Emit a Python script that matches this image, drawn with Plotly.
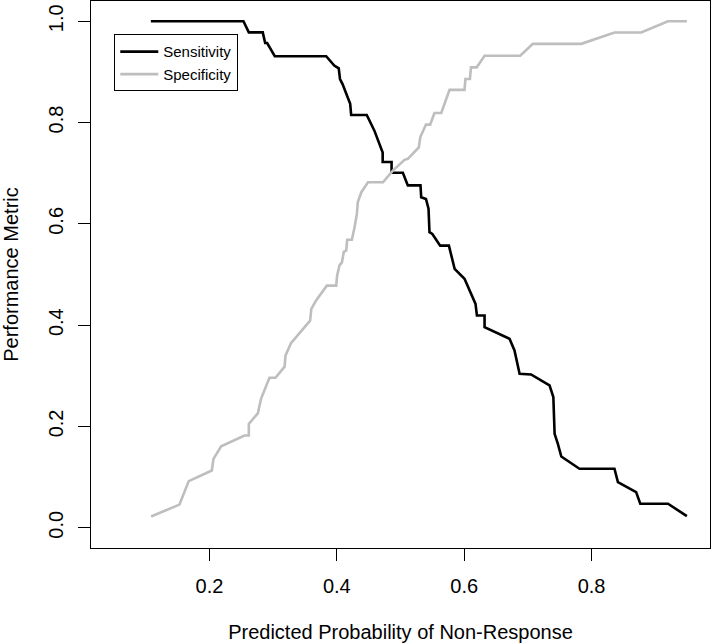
import plotly.graph_objects as go

# Sensitivity curve vertices (threshold -> value)
sens_x = [0.108, 0.2534, 0.2618, 0.2837, 0.2875, 0.2906, 0.3026, 0.3833, 0.396, 0.403,
          0.405, 0.409, 0.417, 0.421, 0.4225, 0.447, 0.459, 0.467, 0.472, 0.472,
          0.486, 0.486, 0.5037, 0.5115, 0.5314, 0.5325, 0.540, 0.544, 0.5455, 0.550,
          0.5623, 0.576, 0.5796, 0.585, 0.6005, 0.611, 0.6178, 0.620, 0.632, 0.632,
          0.6712, 0.679, 0.687, 0.705, 0.734, 0.740, 0.742, 0.747, 0.7525, 0.781,
          0.836, 0.8414, 0.870, 0.8765, 0.920, 0.9497]
sens_y = [1.0, 1.0, 0.978, 0.978, 0.957, 0.957, 0.931, 0.931, 0.9126, 0.907,
          0.886, 0.876, 0.850, 0.837, 0.815, 0.815, 0.784, 0.758, 0.741, 0.722,
          0.722, 0.701, 0.701, 0.676, 0.676, 0.6526, 0.649, 0.630, 0.5835, 0.580,
          0.557, 0.557, 0.5375, 0.511, 0.4915, 0.462, 0.442, 0.419, 0.419, 0.396,
          0.373, 0.350, 0.304, 0.3026, 0.281, 0.258, 0.1855, 0.166, 0.1407, 0.1165,
          0.1165, 0.090, 0.0703, 0.0474, 0.0474, 0.023]

# Specificity curve vertices
spec_x = [0.1084, 0.1529, 0.1675, 0.2037, 0.2063, 0.2184, 0.255, 0.2618, 0.2618, 0.276,
          0.281, 0.2864, 0.2942, 0.3037, 0.318, 0.3194, 0.328, 0.358, 0.36, 0.3675,
          0.3843, 0.399, 0.4005, 0.4042, 0.408, 0.411, 0.4147, 0.4163, 0.4236, 0.4278,
          0.4315, 0.433, 0.4385, 0.449, 0.4725, 0.488, 0.5063, 0.5115, 0.5288, 0.531,
          0.540, 0.5466, 0.5533, 0.564, 0.577, 0.6005, 0.602, 0.609, 0.6107, 0.6197,
          0.632, 0.688, 0.7078, 0.7838, 0.836, 0.878, 0.920, 0.9497]
spec_y = [0.0223, 0.0457, 0.092, 0.113, 0.136, 0.161, 0.182, 0.182, 0.205, 0.226,
          0.2546, 0.2724, 0.296, 0.296, 0.318, 0.340, 0.3644, 0.409, 0.432, 0.4487,
          0.478, 0.478, 0.498, 0.518, 0.524, 0.545, 0.547, 0.5685, 0.5685, 0.593,
          0.620, 0.643, 0.6625, 0.682, 0.682, 0.705, 0.7264, 0.7284, 0.751, 0.771,
          0.796, 0.796, 0.819, 0.819, 0.8646, 0.8646, 0.886, 0.886, 0.909, 0.909,
          0.932, 0.932, 0.9554, 0.9554, 0.9777, 0.9777, 1.0, 1.0]

x_ticks = [0.2, 0.4, 0.6, 0.8]
x_tick_labels = ["0.2", "0.4", "0.6", "0.8"]
y_ticks = [0.0, 0.2, 0.4, 0.6, 0.8, 1.0]
y_tick_labels = ["0.0", "0.2", "0.4", "0.6", "0.8", "1.0"]

FONT = "Liberation Sans, Arial, sans-serif"

fig = go.Figure()
fig.add_trace(go.Scatter(x=sens_x, y=sens_y, mode="lines", name="Sensitivity",
                         line=dict(color="black", width=2.6)))
fig.add_trace(go.Scatter(x=spec_x, y=spec_y, mode="lines", name="Specificity",
                         line=dict(color="#BEBEBE", width=2.6)))

axis_common = dict(showgrid=False, zeroline=False, showline=True, linecolor="black",
                   linewidth=1, mirror=True, ticks="outside", ticklen=12, tickwidth=1,
                   tickcolor="black", tickfont=dict(family=FONT, size=20, color="black"))

fig.update_layout(
    width=711, height=643,
    margin=dict(l=91, r=1, t=1, b=95),
    paper_bgcolor="white", plot_bgcolor="white",
    font=dict(family=FONT, size=20, color="black"),
    xaxis=dict(range=[0.014, 0.986], tickvals=x_ticks, ticktext=x_tick_labels,
               ticklabelstandoff=8,
               title=dict(text="Predicted Probability of Non-Response", standoff=28,
                          font=dict(family=FONT, size=20, color="black")),
               **axis_common),
    yaxis=dict(range=[-0.04, 1.04], tickvals=y_ticks, ticktext=y_tick_labels, tickangle=-90,
               ticklabelstandoff=7,
               title=dict(text="Performance Metric", standoff=25,
                          font=dict(family=FONT, size=20, color="black")),
               **axis_common),
    legend=dict(x=0.0376, y=0.939, xanchor="left", yanchor="top",
                bgcolor="white", bordercolor="black", borderwidth=1,
                font=dict(family=FONT, size=15, color="black"), itemwidth=38),
    showlegend=True,
)

fig.write_html("out.html", config={"displayModeBar": False},
               post_script="document.body.style.margin='0';document.body.style.padding='0';")
